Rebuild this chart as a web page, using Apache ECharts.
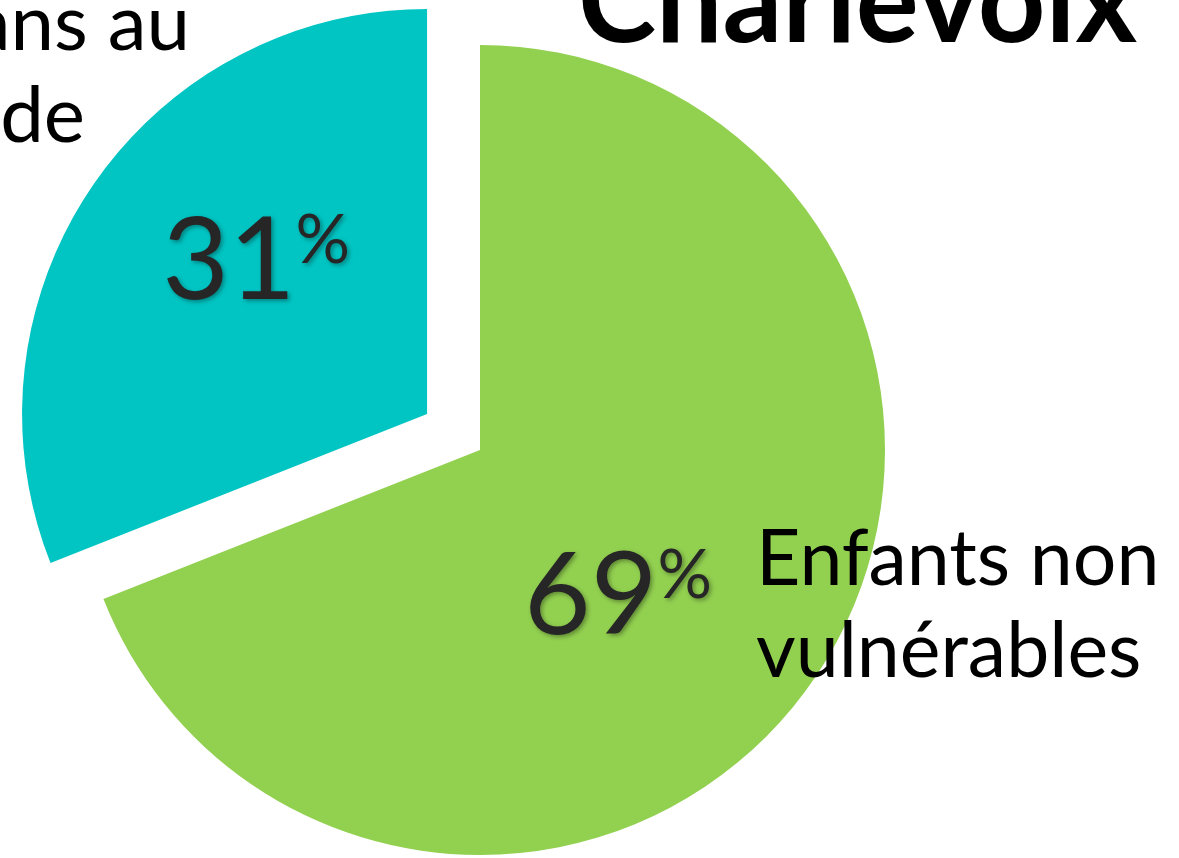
<!DOCTYPE html>
<html>
<head>
<meta charset="utf-8">
<script src="https://cdn.jsdelivr.net/npm/echarts@6/dist/echarts.min.js"></script>
<style>
  html, body { margin: 0; padding: 0; background: #fff; }
  #grafico { width: 1179px; height: 858px; }
</style>
</head>
<body>
<div id="grafico"></div>
<script>
// Datos
const titulo = 'Charlevoix';
const categorias = ['Enfants non vulnérables', 'Enfants vulnérables dans au moins un domaine de développement'];
const valores = [69, 31];
const lineasNoVuln = ['Enfants non', 'vulnérables'];
const lineasVuln = ['Enfants vulnérables dans au', 'moins un domaine de', 'développement'];

const colores = ['#92D050', '#00C5C3'];
const fuente = 'Lato, "Open Sans", sans-serif';
// bord droit de chaque ligne de l'étiquette de gauche (texte centré, coupé par le cadre)
const bordsDroits = [190, 85, -40];

function crearGrafico(data) {
    const sombra = {
        textShadowColor: 'rgba(0,0,0,0.35)', textShadowBlur: 4,
        textShadowOffsetX: 2, textShadowOffsetY: 2
    };
    return {
        animation: false,
        title: {
            text: titulo,
            left: 573,
            top: -60,
            textStyle: { fontFamily: fuente, fontSize: 118, fontWeight: 'bold', color: '#000' }
        },
        series: [{
            type: 'pie',
            center: [480, 450],
            radius: 405,
            startAngle: 90,
            clockwise: true,
            selectedMode: 'multiple',
            selectedOffset: 64,
            silent: true,
            z: 1,
            data: data,
            label: {
                show: true,
                position: 'inside',
                formatter: p => '{v|' + p.value + '}{p|%}',
                rich: {
                    v: Object.assign({ fontFamily: fuente, fontSize: 115, color: '#262626' }, sombra),
                    p: Object.assign({ fontFamily: fuente, fontSize: 68, color: '#262626', verticalAlign: 'top', padding: [3, 0, 0, 0] }, sombra)
                }
            },
            labelLine: { show: false },
            labelLayout: p => (p.dataIndex === 0 ? { dx: -32, dy: 31 } : { dx: -1, dy: -37 })
        }],
        graphic: [
            {
                type: 'text', left: 756, top: 514, z: 100,
                style: { text: lineasNoVuln.join('\n'), font: '77px ' + fuente, fill: '#000', lineHeight: 92 }
            }
        ].concat(lineasVuln.map((t, i) => ({
            type: 'text', x: bordsDroits[i], y: -14 + i * 92, z: 100,
            style: { text: t, font: '78px ' + fuente, fill: '#000', align: 'right', verticalAlign: 'top' }
        })))
    };
}

function iniciar() {
    const chartDom = document.getElementById('grafico');
    const myChart = echarts.init(chartDom, null, { renderer: 'canvas' });
    const datos = categorias.map((c, i) => ({
        name: c,
        value: valores[i],
        selected: i === 1,
        itemStyle: { color: colores[i] }
    }));
    myChart.setOption(crearGrafico(datos));
}
iniciar();
</script>
</body>
</html>
